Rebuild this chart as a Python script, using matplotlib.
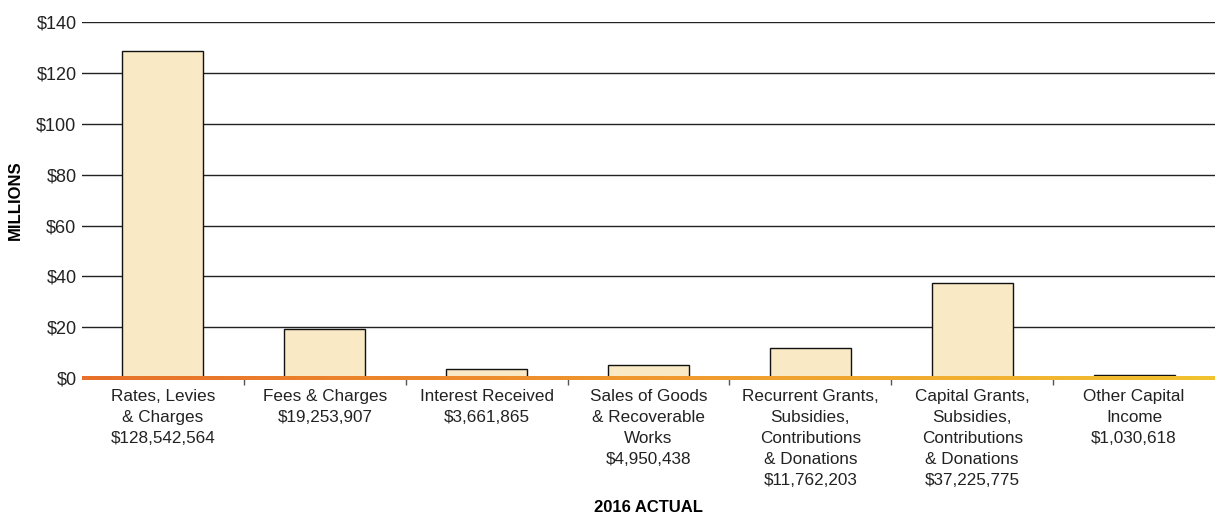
import numpy as np
import matplotlib
matplotlib.use("Agg")
import matplotlib.pyplot as plt
from matplotlib.colors import LinearSegmentedColormap
from matplotlib.transforms import ScaledTranslation

plt.rcParams['font.family'] = ['Liberation Sans', 'DejaVu Sans']

categories = ["Rates, Levies\n& Charges", "Fees & Charges", "Interest Received",
              "Sales of Goods\n& Recoverable\nWorks",
              "Recurrent Grants,\nSubsidies,\nContributions\n& Donations",
              "Capital Grants,\nSubsidies,\nContributions\n& Donations",
              "Other Capital\nIncome"]
amounts = [128542564, 19253907, 3661865, 4950438, 11762203, 37225775, 1030618]
yticks = [0, 20, 40, 60, 80, 100, 120, 140]

values = np.array(amounts) / 1e6
x = np.arange(len(categories))
labels = [c + "\n$" + format(a, ",") for c, a in zip(categories, amounts)]

fig = plt.figure(figsize=(12.15, 5.13), dpi=100)
ax = fig.add_axes([0.0675, 0.263, 0.9325, 0.694])

# grid lines
for t in yticks[1:]:
    ax.axhline(t, color='#222222', lw=1.0, zorder=1)

ax.bar(x, values, width=0.5, color='#F9E9C4', edgecolor='#111111', lw=1.0, zorder=2)

# gradient baseline (orange -> yellow)
cmap = LinearSegmentedColormap.from_list('base', ['#E8702A', '#F0982E', '#F2C230'])
grad = np.linspace(0, 1, 400).reshape(1, -1)
ax.imshow(grad, cmap=cmap, aspect='auto', extent=(-0.5, len(categories) - 0.5, -0.6, 0.6),
          zorder=3, clip_on=False, interpolation='bilinear')

ax.set_xlim(-0.5, len(categories) - 0.5)
ax.set_ylim(0, 140)
ax.set_yticks(yticks)
ax.set_yticklabels(["$" + str(t) for t in yticks], fontsize=13, color='#222222')
ax.tick_params(axis='y', length=0, pad=4)

ax.set_xticks(x)
ax.set_xticklabels(labels, fontsize=12.3, color='#222222', linespacing=1.5, va='top')
ax.tick_params(axis='x', length=0, pad=8)
ax.set_xticks(np.arange(0.5, len(categories) - 1), minor=True)
ax.tick_params(axis='x', which='minor', length=5, width=1, color='#555555')

for s in ax.spines.values():
    s.set_visible(False)

ax.set_ylabel("MILLIONS", fontsize=12, fontweight='bold')
ax.yaxis.set_label_coords(-0.052, 0.5)
ax.text(0.5 * (len(categories) - 1), 0, "2016 ACTUAL", fontsize=12, fontweight='bold',
        ha='center', va='top',
        transform=ax.transData + ScaledTranslation(0, -1.22, fig.dpi_scale_trans))

fig.savefig("out.png", dpi=100)
